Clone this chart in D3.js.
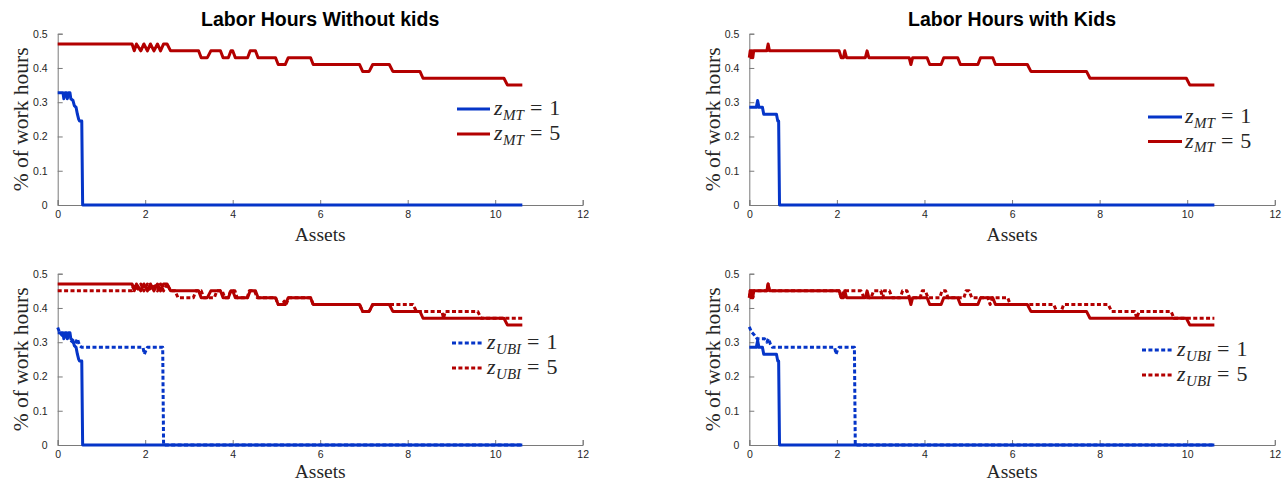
<!DOCTYPE html>
<html>
<head>
<meta charset="utf-8">
<script src="https://cdn.jsdelivr.net/npm/d3@7"></script>
<style>
  html, body { margin: 0; padding: 0; background: #fff; }
  svg { display: block; }
</style>
</head>
<body>
<svg id="chart" width="1282" height="482"></svg>
<script>
// ---------------- DATA ----------------
const xTicks = [0, 2, 4, 6, 8, 10, 12];
const yTicks = [0, 0.1, 0.2, 0.3, 0.4, 0.5];
const titles = ["Labor Hours Without kids", "Labor Hours with Kids"];
const xLabel = "Assets";
const yLabel = "% of work hours";
const legendMT = ["1", "5"];
const legendUBI = ["1", "5"];

// Without kids, means-tested z=1 (solid blue)
const noKidsMT1 = [[0,0.328],[0.12,0.328],[0.14,0.31],[0.17,0.328],[0.2,0.328],[0.22,0.31],[0.25,0.328],[0.28,0.328],[0.3,0.31],[0.35,0.305],[0.38,0.29],[0.42,0.285],[0.45,0.265],[0.48,0.25],[0.5,0.245],[0.55,0.245],[0.57,0],[10.62,0]];
// Without kids, means-tested z=5 (solid red)
const noKidsMT5 = [[0,0.47],[1.7,0.47],[1.75,0.45],[1.8,0.47],[1.9,0.45],[1.97,0.47],[2.05,0.45],[2.12,0.47],[2.2,0.45],[2.28,0.47],[2.35,0.45],[2.42,0.47],[2.5,0.47],[2.58,0.45],[3.22,0.45],[3.28,0.43],[3.42,0.43],[3.5,0.45],[3.72,0.45],[3.78,0.43],[3.9,0.43],[3.96,0.45],[4.0,0.45],[4.06,0.43],[4.34,0.43],[4.4,0.45],[4.52,0.45],[4.58,0.43],[4.98,0.43],[5.04,0.41],[5.2,0.41],[5.27,0.43],[5.78,0.43],[5.84,0.41],[6.9,0.41],[6.97,0.39],[7.12,0.39],[7.2,0.41],[7.58,0.41],[7.66,0.39],[8.28,0.39],[8.35,0.37],[10.2,0.37],[10.28,0.35],[10.62,0.35]];
// Without kids, UBI z=1 (dotted blue)
const noKidsUBI1 = [[0,0.343],[0.04,0.33],[0.1,0.32],[0.2,0.315],[0.3,0.305],[0.35,0.3],[0.4,0.295],[0.45,0.31],[0.5,0.29],[0.55,0.285],[1.95,0.285],[1.98,0.265],[2.03,0.28],[2.05,0.285],[2.4,0.285],[2.42,0],[10.62,0]];
// Without kids, UBI z=5 (dotted red)
const noKidsUBI5 = [[0,0.45],[1.7,0.45],[1.75,0.47],[1.8,0.45],[1.9,0.47],[1.97,0.45],[2.05,0.47],[2.12,0.45],[2.2,0.47],[2.28,0.45],[2.35,0.47],[2.42,0.45],[2.5,0.47],[2.58,0.45],[2.68,0.45],[2.75,0.43],[3.1,0.43],[3.16,0.45],[3.28,0.45],[3.34,0.43],[3.58,0.43],[3.64,0.45],[3.76,0.45],[3.82,0.43],[3.9,0.43],[3.95,0.45],[4.05,0.45],[4.1,0.43],[4.33,0.43],[4.38,0.45],[4.5,0.45],[4.56,0.43],[4.98,0.43],[5.04,0.41],[5.12,0.41],[5.18,0.42],[5.22,0.41],[5.28,0.43],[5.78,0.43],[5.84,0.41],[6.9,0.41],[6.97,0.39],[7.12,0.39],[7.2,0.41],[8.12,0.41],[8.2,0.39],[8.78,0.39],[8.82,0.37],[8.86,0.39],[9.6,0.39],[9.68,0.37],[10.62,0.37]];

// With kids, means-tested z=1 (solid blue)
const kidsMT1 = [[0,0.285],[0.16,0.285],[0.19,0.305],[0.22,0.285],[0.3,0.285],[0.33,0.265],[0.62,0.265],[0.65,0.245],[0.67,0.245],[0.69,0],[10.62,0]];
// With kids, means-tested z=5 (solid red)
const kidsMT5 = [[0,0.43],[0.02,0.45],[0.04,0.43],[0.06,0.45],[0.08,0.43],[0.1,0.45],[0.4,0.45],[0.43,0.47],[0.46,0.45],[2.05,0.45],[2.1,0.43],[2.15,0.43],[2.18,0.45],[2.22,0.43],[2.65,0.43],[2.69,0.45],[2.73,0.43],[3.65,0.43],[3.69,0.41],[3.73,0.43],[4.06,0.43],[4.12,0.41],[4.38,0.41],[4.44,0.43],[4.76,0.43],[4.82,0.41],[5.22,0.41],[5.28,0.43],[5.56,0.43],[5.62,0.41],[6.35,0.41],[6.43,0.39],[7.7,0.39],[7.78,0.37],[9.98,0.37],[10.06,0.35],[10.62,0.35]];
// With kids, UBI z=1 (dotted blue)
const kidsUBI1 = [[0,0.345],[0.05,0.33],[0.12,0.32],[0.18,0.31],[0.35,0.31],[0.4,0.3],[0.44,0.31],[0.48,0.295],[0.53,0.285],[1.95,0.285],[1.98,0.265],[2.02,0.28],[2.05,0.285],[2.4,0.285],[2.42,0],[10.62,0]];
// With kids, UBI z=5 (dotted red)
const kidsUBI5 = [[0,0.43],[0.02,0.45],[0.04,0.43],[0.06,0.45],[0.08,0.43],[0.1,0.45],[0.4,0.45],[0.43,0.47],[0.46,0.45],[2.05,0.45],[2.1,0.43],[2.15,0.45],[2.55,0.45],[2.62,0.43],[2.78,0.43],[2.84,0.45],[3.0,0.45],[3.05,0.43],[3.08,0.45],[3.2,0.45],[3.26,0.43],[3.45,0.43],[3.5,0.45],[3.6,0.45],[3.66,0.43],[3.9,0.43],[3.95,0.45],[4.02,0.45],[4.08,0.43],[4.35,0.43],[4.4,0.45],[4.48,0.45],[4.54,0.43],[4.9,0.43],[4.95,0.45],[5.02,0.45],[5.08,0.43],[5.45,0.43],[5.5,0.41],[5.55,0.43],[5.9,0.43],[5.96,0.41],[6.95,0.41],[7.02,0.39],[7.12,0.39],[7.18,0.41],[8.2,0.41],[8.27,0.39],[8.8,0.39],[8.85,0.37],[8.9,0.39],[9.63,0.39],[9.7,0.37],[10.62,0.37]];

// ---------------- STYLE ----------------
const BLUE = "#0535c8";
const RED = "#b30000";
const AXIS = "#7a7a7a";
const TXT = "#262626";
const SERIF = "'Liberation Serif', 'Times New Roman', serif";
const SANS = "'Liberation Sans', Arial, Helvetica, sans-serif";

const svg = d3.select("#chart");

const panels = [
  { left: 57.7, right: 582.7, top: 33.7, bottom: 205, title: titles[0], xlabOff: 36,
    series: [{d: noKidsMT1, c: BLUE, dash: null}, {d: noKidsMT5, c: RED, dash: null}],
    legend: { sub: "MT", vals: legendMT, x1: 457, x2: 490, y: 109, gap: 25, tx: 494, dash: null } },
  { left: 749.3, right: 1274.8, top: 33.7, bottom: 205, title: titles[1], xlabOff: 36,
    series: [{d: kidsMT1, c: BLUE, dash: null}, {d: kidsMT5, c: RED, dash: null}],
    legend: { sub: "MT", vals: legendMT, x1: 1148, x2: 1182, y: 117, gap: 24.5, tx: 1185, dash: null } },
  { left: 57.7, right: 582.7, top: 273.7, bottom: 445, title: null, xlabOff: 32.6,
    series: [{d: noKidsMT1, c: BLUE, dash: null}, {d: noKidsMT5, c: RED, dash: null},
             {d: noKidsUBI1, c: BLUE, dash: "4,2.4"}, {d: noKidsUBI5, c: RED, dash: "4,2.4"}],
    legend: { sub: "UBI", vals: legendUBI, x1: 452, x2: 484, y: 343, gap: 25, tx: 487, dash: "4,2.4" } },
  { left: 749.3, right: 1274.8, top: 273.7, bottom: 445, title: null, xlabOff: 32.6,
    series: [{d: kidsMT1, c: BLUE, dash: null}, {d: kidsMT5, c: RED, dash: null},
             {d: kidsUBI1, c: BLUE, dash: "4,2.4"}, {d: kidsUBI5, c: RED, dash: "4,2.4"}],
    legend: { sub: "UBI", vals: legendUBI, x1: 1142, x2: 1174, y: 350, gap: 25, tx: 1177, dash: "4,2.4" } }
];

panels.forEach(p => {
  const x = d3.scaleLinear().domain([0, 12]).range([p.left, p.right]);
  const y = d3.scaleLinear().domain([0, 0.5]).range([p.bottom, p.top]);
  const g = svg.append("g");

  // axes (MATLAB style: inward ticks, box off)
  const xAxis = d3.axisBottom(x).tickValues(xTicks).tickSize(-5).tickPadding(5).tickFormat(d3.format("d"));
  const yAxis = d3.axisLeft(y).tickValues(yTicks).tickSize(-5).tickPadding(10)
    .tickFormat(d => d === 0 ? "0" : d3.format(".1f")(d));

  const gx = g.append("g").attr("transform", `translate(0,${p.bottom})`).call(xAxis);
  const gy = g.append("g").attr("transform", `translate(${p.left},0)`).call(yAxis);
  [gx, gy].forEach(a => {
    a.select(".domain").attr("stroke", AXIS).attr("stroke-width", 1);
    a.selectAll(".tick line").attr("stroke", AXIS).attr("stroke-width", 1);
    a.selectAll(".tick text").attr("fill", TXT).attr("font-family", SANS).attr("font-size", "10.5px");
  });
  gx.selectAll(".tick text").attr("dy", "0.75em");

  // axis labels
  g.append("text")
    .attr("x", (p.left + p.right) / 2).attr("y", p.bottom + p.xlabOff)
    .attr("text-anchor", "middle").attr("font-family", SERIF).attr("font-size", "19.5px")
    .attr("fill", TXT).text(xLabel);
  g.append("text")
    .attr("transform", `translate(${p.left - 29.5},${(p.top + p.bottom) / 2}) rotate(-90)`)
    .attr("text-anchor", "middle").attr("font-family", SERIF).attr("font-size", "21.5px")
    .attr("fill", TXT).text(yLabel);

  if (p.title) {
    g.append("text")
      .attr("x", (p.left + p.right) / 2).attr("y", 26)
      .attr("text-anchor", "middle").attr("font-family", SANS).attr("font-weight", "bold")
      .attr("font-size", "19.5px").attr("fill", "#000").text(p.title);
  }

  // lines
  const line = d3.line().x(d => x(d[0])).y(d => y(d[1]));
  p.series.forEach(s => {
    g.append("path").datum(s.d)
      .attr("d", line)
      .attr("fill", "none")
      .attr("stroke", s.c)
      .attr("stroke-width", 3)
      .attr("stroke-linejoin", "round")
      .attr("stroke-dasharray", s.dash);
  });

  // legend
  const L = p.legend;
  [BLUE, RED].forEach((c, i) => {
    const ly = L.y + i * L.gap;
    g.append("line").attr("x1", L.x1).attr("x2", L.x2).attr("y1", ly).attr("y2", ly)
      .attr("stroke", c).attr("stroke-width", 3).attr("stroke-dasharray", L.dash);
    const t = g.append("text").attr("x", L.tx).attr("y", ly + 6)
      .attr("font-family", SERIF).attr("font-size", "22px").attr("fill", TXT);
    t.append("tspan").attr("font-style", "italic").text("z");
    t.append("tspan").attr("font-style", "italic").attr("font-size", "15px").attr("dy", 4.5).attr("dx", 0.5).text(L.sub);
    t.append("tspan").attr("dy", -4.5).attr("dx", 6).text("=");
    t.append("tspan").attr("dx", 7).text(L.vals[i]);
  });
});
</script>
</body>
</html>
